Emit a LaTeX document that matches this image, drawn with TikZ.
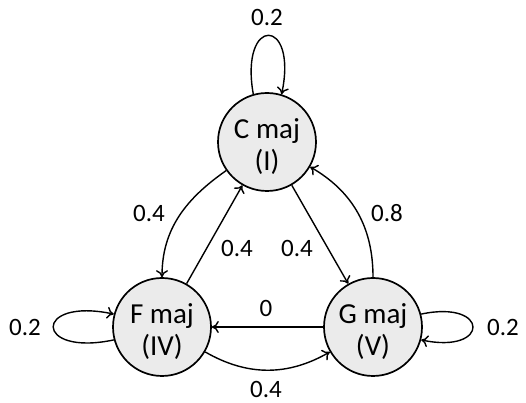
\documentclass[tikz,border=0pt]{standalone}
\usepackage{fontspec}
\setmainfont{Carlito}
\usetikzlibrary{arrows.meta}
\begin{document}
\begin{tikzpicture}[x=1pt,y=1pt,
  state/.style={circle,draw=black,line width=1.7pt,fill=black!8,minimum size=98pt,inner sep=0pt,
    align=center,font=\fontsize{29}{32}\selectfont,text height=58pt,text depth=0pt},
  edge/.style={line width=1.4pt,-{To[length=7pt,width=12pt]}},
  lbl/.style={font=\fontsize{25}{30}\selectfont,inner sep=0pt}]
\useasboundingbox (0,0) rectangle (526,403);
\node[state] (C) at (267,261) {C maj\\(I)};
\node[state] (F) at (162,76) {F maj\\(IV)};
\node[state] (G) at (373,76) {G maj\\(V)};
% self loops
\draw[edge] (C.106) to[out=100,in=78,looseness=7.2] (C.73);
\draw[edge] (F.195) to[out=192,in=168,looseness=8.2] (F.165);
\draw[edge] (G.15) to[out=12,in=-12,looseness=7] (G.-15);
% between states
\draw[edge] (C) to[out=215,in=90] (F);
\draw[edge] (F) -- (C);
\draw[edge] (C) -- (G);
\draw[edge] (G) to[out=90,in=330] (C);
\draw[edge] (G) -- (F);
\draw[edge] (F) to[out=-30,in=210] (G);
% labels
\node[lbl] (lc) at (267,386) {0.2};
\node[lbl] (lf) at (25,76) {0.2};
\node[lbl] (lg) at (503,76) {0.2};
\node[lbl] (lcf) at (149,190) {0.4};
\node[lbl] (lfc) at (237,155) {0.4};
\node[lbl] (lcg) at (297,155) {0.4};
\node[lbl] (lgc) at (387,190) {0.8};
\node[lbl] (lgf) at (266,95) {0};
\node[lbl] (lfg) at (266,14) {0.4};
\end{tikzpicture}
\end{document}
